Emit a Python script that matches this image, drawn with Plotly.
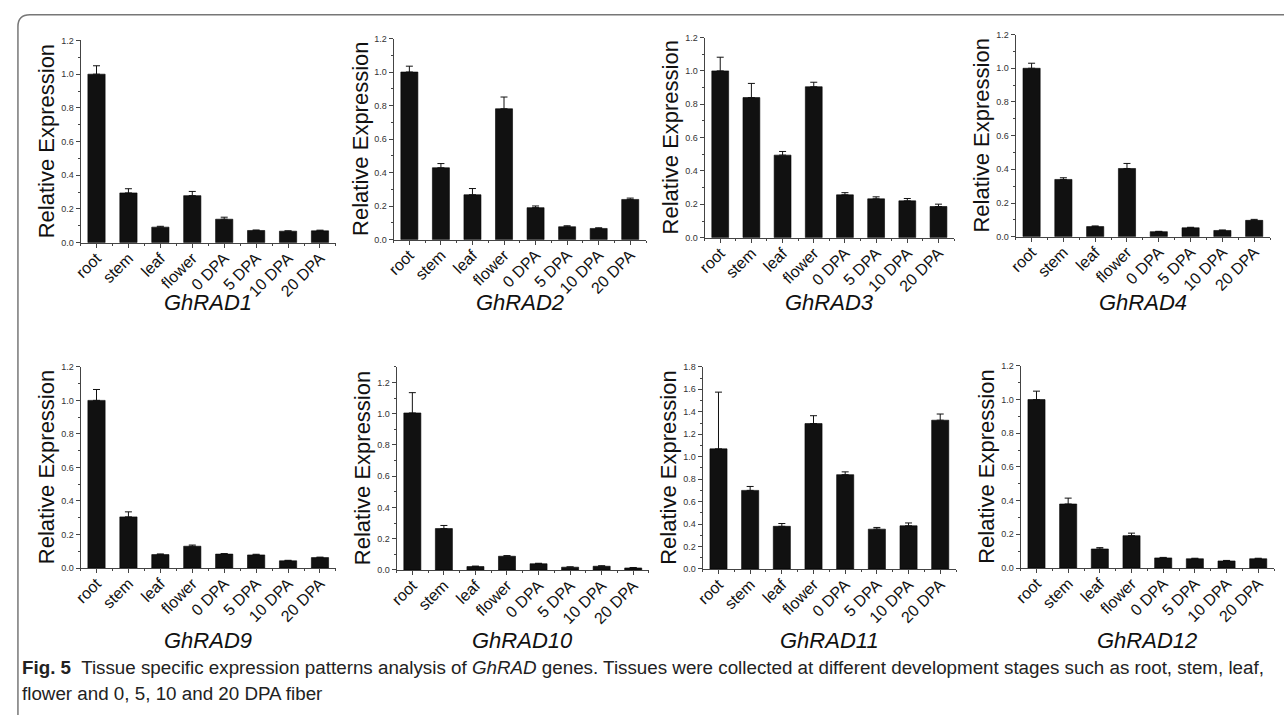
import plotly.graph_objects as go

# Tissues / fibre stages on the x axis
tissues = ["root", "stem", "leaf", "flower", "0 DPA", "5 DPA", "10 DPA", "20 DPA"]

# Relative expression (mean) and standard error for each gene
rad1_mean = [1.00, 0.295, 0.092, 0.279, 0.139, 0.072, 0.068, 0.070]
rad1_err = [0.050, 0.025, 0.005, 0.025, 0.012, 0.003, 0.002, 0.004]

rad2_mean = [1.00, 0.429, 0.268, 0.781, 0.191, 0.077, 0.067, 0.240]
rad2_err = [0.035, 0.025, 0.037, 0.070, 0.010, 0.006, 0.004, 0.008]

rad3_mean = [1.00, 0.840, 0.495, 0.905, 0.257, 0.233, 0.221, 0.187]
rad3_err = [0.082, 0.085, 0.022, 0.027, 0.013, 0.012, 0.014, 0.014]

rad4_mean = [1.00, 0.340, 0.060, 0.405, 0.030, 0.053, 0.037, 0.097]
rad4_err = [0.030, 0.010, 0.004, 0.030, 0.002, 0.003, 0.003, 0.006]

rad9_mean = [1.00, 0.305, 0.080, 0.130, 0.083, 0.078, 0.043, 0.062]
rad9_err = [0.065, 0.030, 0.004, 0.007, 0.003, 0.004, 0.003, 0.003]

rad10_mean = [1.005, 0.265, 0.022, 0.088, 0.040, 0.018, 0.024, 0.013]
rad10_err = [0.130, 0.020, 0.003, 0.004, 0.003, 0.002, 0.003, 0.003]

rad11_mean = [1.07, 0.70, 0.38, 1.295, 0.84, 0.355, 0.385, 1.325]
rad11_err = [0.505, 0.035, 0.025, 0.070, 0.025, 0.015, 0.025, 0.055]

rad12_mean = [1.00, 0.380, 0.113, 0.192, 0.060, 0.055, 0.042, 0.055]
rad12_err = [0.050, 0.035, 0.008, 0.015, 0.003, 0.003, 0.003, 0.003]

gene_names = ["GhRAD1", "GhRAD2", "GhRAD3", "GhRAD4",
              "GhRAD9", "GhRAD10", "GhRAD11", "GhRAD12"]
gene_means = [rad1_mean, rad2_mean, rad3_mean, rad4_mean,
              rad9_mean, rad10_mean, rad11_mean, rad12_mean]
gene_errs = [rad1_err, rad2_err, rad3_err, rad4_err,
             rad9_err, rad10_err, rad11_err, rad12_err]
y_max = [1.2, 1.2, 1.2, 1.2, 1.2, 1.3, 1.8, 1.2]

W, H = 1284, 715
# plot-area boxes in pixels: left, right, top, bottom
boxes = [
    (73, 330, 36, 241), (388, 642, 34, 238), (701, 952, 33, 236), (1014, 1270, 30, 235),
    (73, 330, 367, 571), (391, 645, 367, 573), (699, 954, 367, 572), (1019, 1274, 366, 571),
]

FONT = "Liberation Sans, Arial, sans-serif"
fig = go.Figure()
layout = {}
annotations = []

for i, (name, mean, err, ymax, box) in enumerate(
        zip(gene_names, gene_means, gene_errs, y_max, boxes)):
    n = i + 1
    xa = "x" if n == 1 else f"x{n}"
    ya = "y" if n == 1 else f"y{n}"
    xpos = list(range(len(tissues)))
    fig.add_trace(go.Bar(
        x=xpos, y=mean, xaxis=xa, yaxis=ya, width=0.54,
        marker=dict(color="#111111", line=dict(color="#000000", width=0.6)),
        error_y=dict(type="data", array=err, arrayminus=[0] * len(err), symmetric=False,
                     color="#111111", thickness=1, width=3.5),
        showlegend=False, hoverinfo="x+y",
    ))
    l, r, t, b = box
    xd = [l / W, r / W]
    yd = [1 - b / H, 1 - t / H]
    layout["xaxis" if n == 1 else f"xaxis{n}"] = dict(
        domain=xd, anchor=ya, range=[-0.5, len(tissues) - 0.5],
        tickmode="array", tickvals=xpos, ticktext=tissues, tickangle=-45,
        ticks="outside", ticklen=4, tickwidth=1, tickcolor="#444",
        ticklabelstandoff=-5,
        minor=dict(tickmode="array", tickvals=[k + 0.5 for k in range(-1, len(tissues))],
                   ticks="outside", ticklen=2, tickcolor="#444"),
        showline=True, linecolor="#444", linewidth=1, showgrid=False, zeroline=False,
        tickfont=dict(family=FONT, size=16, color="#111"), fixedrange=True,
    )
    layout["yaxis" if n == 1 else f"yaxis{n}"] = dict(
        domain=yd, anchor=xa, range=[0, ymax],
        tickmode="linear", tick0=0, dtick=0.2, tickformat=".1f",
        ticks="outside", ticklen=4, tickwidth=1, tickcolor="#444",
        minor=dict(dtick=0.1, ticks="outside", ticklen=2, tickcolor="#444"),
        showline=True, linecolor="#444", linewidth=1, showgrid=False, zeroline=False,
        tickfont=dict(family=FONT, size=9, color="#333"), fixedrange=True,
    )
    # y-axis title
    annotations.append(dict(
        text="Relative Expression", textangle=-90, showarrow=False,
        xref="paper", yref="paper", x=(l - 34) / W, y=1 - (t + b) / 2 / H,
        xanchor="center", yanchor="middle",
        font=dict(family=FONT, size=22, color="#111"),
    ))
    # gene name below the panel
    title_y = 302 if n <= 4 else 645
    annotations.append(dict(
        text=f"<i>{name}</i>", showarrow=False,
        xref="paper", yref="paper", x=(l + r) / 2 / W, y=1 - title_y / H,
        xanchor="center", yanchor="middle",
        font=dict(family=FONT, size=22, color="#111"),
    ))

CAP_FONT = "Liberation Sans, Arial, sans-serif"
annotations.append(dict(
    text="<b>Fig. 5</b>  Tissue specific expression patterns analysis of <i>GhRAD</i> genes. "
         "Tissues were collected at different development stages such as root, stem, leaf,",
    showarrow=False, xref="paper", yref="paper", x=12 / W, y=1 - 672 / H,
    xanchor="left", yanchor="middle", font=dict(family=CAP_FONT, size=18.8, color="#222"),
))
annotations.append(dict(
    text="flower and 0, 5, 10 and 20 DPA fiber",
    showarrow=False, xref="paper", yref="paper", x=12 / W, y=1 - 698 / H,
    xanchor="left", yanchor="middle", font=dict(family=CAP_FONT, size=18.8, color="#222"),
))

# rounded frame around the figure
frame = dict(
    type="path", xref="paper", yref="paper",
    path=f"M {1300 / W} {1 - 10 / H} L {22 / W} {1 - 10 / H} "
         f"Q {10 / W} {1 - 10 / H} {10 / W} {1 - 22 / H} L {10 / W} {1 - 730 / H}",
    line=dict(color="#777", width=1.5),
)

fig.update_layout(
    width=W, height=H, margin=dict(l=0, r=0, t=0, b=0),
    paper_bgcolor="white", plot_bgcolor="white",
    annotations=annotations, shapes=[frame], bargap=0.5,
    **layout,
)

fig.write_html("out.html", config={"displayModeBar": False})
